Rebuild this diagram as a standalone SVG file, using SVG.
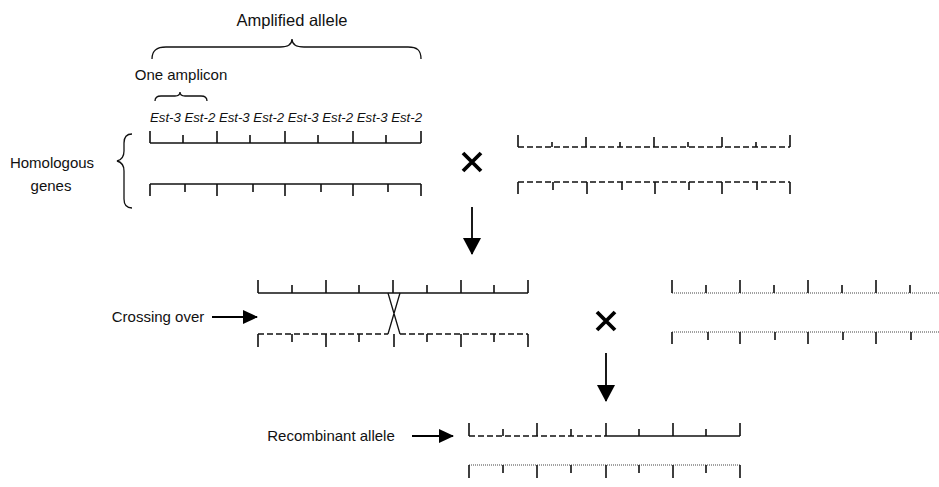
<svg xmlns="http://www.w3.org/2000/svg" width="939" height="487" viewBox="0 0 939 487">
  <style>
    text { font-family: "Liberation Sans", Arial, sans-serif; fill: #111; }
    .lbl { font-size: 15px; }
    .title { font-size: 16.5px; }
    .est { font-size: 13.2px; font-style: italic; }
    .solid { fill: none; stroke: #111; stroke-width: 1.3; }
    .dash { fill: none; stroke: #111; stroke-width: 1.3; stroke-dasharray: 6 3; }
    .dot { fill: none; stroke: #444; stroke-width: 1.2; stroke-dasharray: 1 1; }
    .tick { fill: none; stroke: #111; stroke-width: 1.6; }
    .brace { fill: none; stroke: #111; stroke-width: 1.3; }
    .cross { fill: none; stroke: #000; stroke-width: 3.8; }
    .arrow { fill: none; stroke: #000; stroke-width: 1.8; }
  </style>
  <defs>
    <marker id="headV" markerUnits="userSpaceOnUse" viewBox="0 0 17 18" markerWidth="17" markerHeight="18" refX="16" refY="9" orient="auto">
      <path d="M0,0 L17,9 L0,18 z" fill="#000"/>
    </marker>
    <marker id="headH" markerUnits="userSpaceOnUse" viewBox="0 0 15 14" markerWidth="15" markerHeight="14" refX="14" refY="7" orient="auto">
      <path d="M0,0 L15,7 L0,14 z" fill="#000"/>
    </marker>
  </defs>

  <!-- labels and braces -->
  <g id="amplified-allele">
    <text class="title" x="292" y="26" text-anchor="middle">Amplified allele</text>
    <path class="brace" d="M152,59 C152,50 157,47 166,47 L280,47 C288,47 292,45 292,39 C292,45 296,47 304,47 L408,47 C417,47 421,50 421,59"/>
  </g>
  <g id="one-amplicon">
    <text class="lbl" x="181" y="80" text-anchor="middle">One amplicon</text>
    <path class="brace" d="M155,101 C155,97 157,96 161,96 L175,96 C178,96 180,95 180,92 C180,95 182,96 185,96 L201,96 C205,96 207,97 207,101"/>
  </g>
  <g id="homologous-genes">
    <text class="lbl" x="52" y="168" text-anchor="middle">Homologous</text>
    <text class="lbl" x="51" y="191" text-anchor="middle">genes</text>
    <path class="brace" d="M132,134 C126,134 124,137 124,143 L124,151 C124,157 121,160 117,161 C121,162 124,165 124,171 L124,199 C124,205 126,208 132,208"/>
  </g>
  <g id="est-labels">
    <text class="est" x="150" y="122" textLength="272" lengthAdjust="spacing">Est-3 Est-2 Est-3 Est-2 Est-3 Est-2 Est-3 Est-2</text>
  </g>

  <!-- parent 1: amplified allele pair -->
  <g id="parent1-upper">
    <path class="solid" d="M150,143 H421"/>
    <path class="tick" d="M150,143 V131 M183,143 V135 M217,143 V131 M250,143 V135 M285,143 V131 M318,143 V135 M353,143 V131 M386,143 V135 M421,143 V131"/>
  </g>
  <g id="parent1-lower">
    <path class="solid" d="M150,184 H421"/>
    <path class="tick" d="M150,184 V196 M185,184 V192 M217,184 V196 M253,184 V192 M285,184 V196 M321,184 V192 M353,184 V196 M388,184 V192 M421,184 V196"/>
  </g>

  <!-- parent 2: dashed pair -->
  <g id="parent2-upper">
    <path class="dash" d="M518,147 H790"/>
    <path class="tick" d="M518,147 V135 M552,147 V142 M586,147 V137 M620,147 V142 M654,147 V137 M688,147 V142 M722,147 V137 M756,147 V142 M790,147 V135"/>
  </g>
  <g id="parent2-lower">
    <path class="dash" d="M518,182 H790"/>
    <path class="tick" d="M518,182 V194 M553,182 V190 M587,182 V194 M622,182 V190 M655,182 V194 M689,182 V190 M722,182 V194 M757,182 V190 M790,182 V194"/>
  </g>

  <!-- hybrid with crossing over -->
  <g id="hybrid-upper">
    <path class="solid" d="M258,293 H528"/>
    <path class="tick" d="M258,293 V280 M292,293 V285 M326,293 V280 M359,293 V285 M393,293 V280 M427,293 V285 M461,293 V280 M494,293 V285 M528,293 V280"/>
  </g>
  <g id="hybrid-lower">
    <path class="dash" d="M258,334 H388 M400,334 H528"/>
    <path class="tick" d="M258,334 V347 M292,334 V342 M326,334 V347 M359,334 V342 M394,334 V347 M427,334 V342 M461,334 V347 M494,334 V342 M528,334 V347"/>
  </g>
  <g id="crossover">
    <path class="solid" d="M388,293 L400,334 M400,293 L388,334"/>
  </g>
  <g id="crossing-over-label">
    <text class="lbl" x="158" y="322" text-anchor="middle">Crossing over</text>
  </g>

  <!-- parent 3: dotted pair -->
  <g id="parent3-upper">
    <path class="dot" d="M672,293 H939"/>
    <path class="tick" d="M672,293 V280 M706,293 V285 M740,293 V280 M774,293 V285 M808,293 V280 M842,293 V285 M876,293 V280 M910,293 V285"/>
  </g>
  <g id="parent3-lower">
    <path class="dot" d="M672,332 H939"/>
    <path class="tick" d="M672,332 V344 M708,332 V340 M740,332 V344 M775,332 V340 M808,332 V344 M843,332 V340 M876,332 V344 M911,332 V340"/>
  </g>

  <!-- offspring -->
  <g id="recombinant-allele">
    <path class="dash" d="M469,436 H606"/>
    <path class="solid" d="M606,436 H740"/>
    <path class="tick" d="M469,436 V423 M503,436 V429 M537,436 V423 M571,436 V429 M606,436 V423 M639,436 V429 M673,436 V423 M706,436 V429 M740,436 V423"/>
  </g>
  <g id="recombinant-label">
    <text class="lbl" x="331" y="441" text-anchor="middle">Recombinant allele</text>
  </g>
  <g id="offspring-lower">
    <path class="dot" d="M469,465 H740"/>
    <path class="tick" d="M469,465 V478 M503,465 V473 M537,465 V478 M571,465 V473 M606,465 V478 M639,465 V473 M673,465 V478 M706,465 V473 M740,465 V478"/>
  </g>

  <!-- cross symbols -->
  <g id="cross-1">
    <path class="cross" d="M463,153 L481,171 M481,153 L463,171"/>
  </g>
  <g id="cross-2">
    <path class="cross" d="M597,312 L615,330 M615,312 L597,330"/>
  </g>

  <!-- connectors -->
  <g id="connectors">
    <path class="arrow" d="M472,207 V254" marker-end="url(#headV)"/>
    <path class="arrow" d="M606,353 V401" marker-end="url(#headV)"/>
    <path class="arrow" d="M212,317 H257" marker-end="url(#headH)"/>
    <path class="arrow" d="M412,436 H453" marker-end="url(#headH)"/>
  </g>
</svg>
